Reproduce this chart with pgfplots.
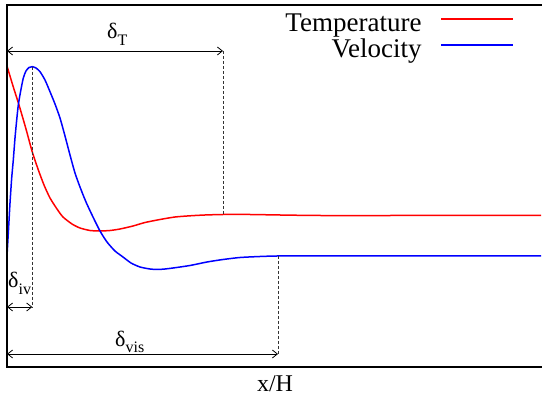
\documentclass[border=0pt]{standalone}
\usepackage{pgfplots}
\pgfplotsset{compat=1.18}
\usepackage{fontspec}
\setmainfont{Liberation Serif}
\usetikzlibrary{arrows.meta}

\pgfplotstableread{
x y
7 66
13 86
19 105
26 129
32 151
38 169
44 185
50 198
57 209
63 217
72 224
80 228
90 230.5
100 231
110 230.5
120 229
133 226
145 222.5
160 219.5
175 217
190 215.8
205 215
223 214.5
250 214.5
280 215
320 215.5
400 215.5
541 215.5
}\temptable

\pgfplotstableread{
x y
7 256
8.5 230
10 203
11.7 178
13.3 160
15 138
16.7 120
18.3 105
20.5 92
23.3 78
26 71
29 67.5
32.3 66.7
36 68
40 71.7
45 80
50 91.7
55 104
60 118
65 136
70 155
75 173
80 187
86 202
93 217
100 231
107 242
115 251
123 257
131 263
140 267
150 269
157 269.5
165 269
173 268
190 265.5
207 262
223 259.5
240 257.5
260 256.5
277 256
310 256
400 256
541 256
}\veltable

\tikzset{
  dim/.style={line width=0.8pt, {Straight Barb[length=5pt,width=8pt]}-{Straight Barb[length=5pt,width=8pt]}},
  guide/.style={line width=0.6pt, black!80, dash pattern=on 3pt off 2pt},
}

\begin{document}
\begin{tikzpicture}
\begin{axis}[
  width=542pt, height=406pt, scale only axis,
  xmin=0, xmax=542, ymin=0, ymax=406, y dir=reverse,
  hide axis, clip=false,
  legend style={
    at={(axis cs:514,14)}, anchor=north east,
    draw=none, fill=none,
    font=\fontsize{27}{30}\selectfont,
    inner sep=0pt, outer sep=0pt,
    row sep=0pt,
    nodes={inner sep=0pt, text height=18pt, text depth=8pt},
    /tikz/every odd column/.append style={column sep=19pt},
  },
  legend cell align=right,
  legend plot pos=right,
  legend image code/.code={\draw[#1] (0pt,8pt) -- (72pt,8pt);},
]
\addplot[red, line width=1.5pt, smooth, tension=0.4] table {\temptable};
\addlegendentry{Temperature}
\addplot[blue, line width=1.5pt, smooth, tension=0.4] table {\veltable};
\addlegendentry{Velocity}

\coordinate (bl) at (axis cs:0,406);
\coordinate (tr) at (axis cs:542,0);

% frame (right side is cut off in the reference)
\draw[line width=1.3pt] (axis cs:542,5) -- (axis cs:7,5) -- (axis cs:7,367) -- (axis cs:542,367);

% guides
\draw[guide] (axis cs:223,51) -- (axis cs:223,214.5);
\draw[guide] (axis cs:32.3,66.7) -- (axis cs:32.3,307);
\draw[guide] (axis cs:278,256) -- (axis cs:278,354);

% dimension arrows
\draw[dim] (axis cs:7,51) -- (axis cs:223,51);
\draw[dim] (axis cs:7,307) -- (axis cs:32.3,307);
\draw[dim] (axis cs:7,354) -- (axis cs:278,354);

% labels
\node[anchor=base west, inner sep=0pt] at (axis cs:107,39)
  {\fontsize{22}{22}\selectfont δ\raisebox{-7pt}{\fontsize{16}{16}\selectfont T}};
\node[anchor=base west, inner sep=0pt] at (axis cs:8,288)
  {\fontsize{22}{22}\selectfont δ\raisebox{-7pt}{\fontsize{16}{16}\selectfont iv}};
\node[anchor=base west, inner sep=0pt] at (axis cs:115,347)
  {\fontsize{22}{22}\selectfont δ\raisebox{-6pt}{\fontsize{16}{16}\selectfont vis}};
\node[anchor=base, inner sep=0pt] at (axis cs:275,392)
  {\fontsize{24}{24}\selectfont x/H};
\end{axis}
\pgfresetboundingbox
\useasboundingbox (bl) rectangle (tr);
\end{tikzpicture}
\end{document}
